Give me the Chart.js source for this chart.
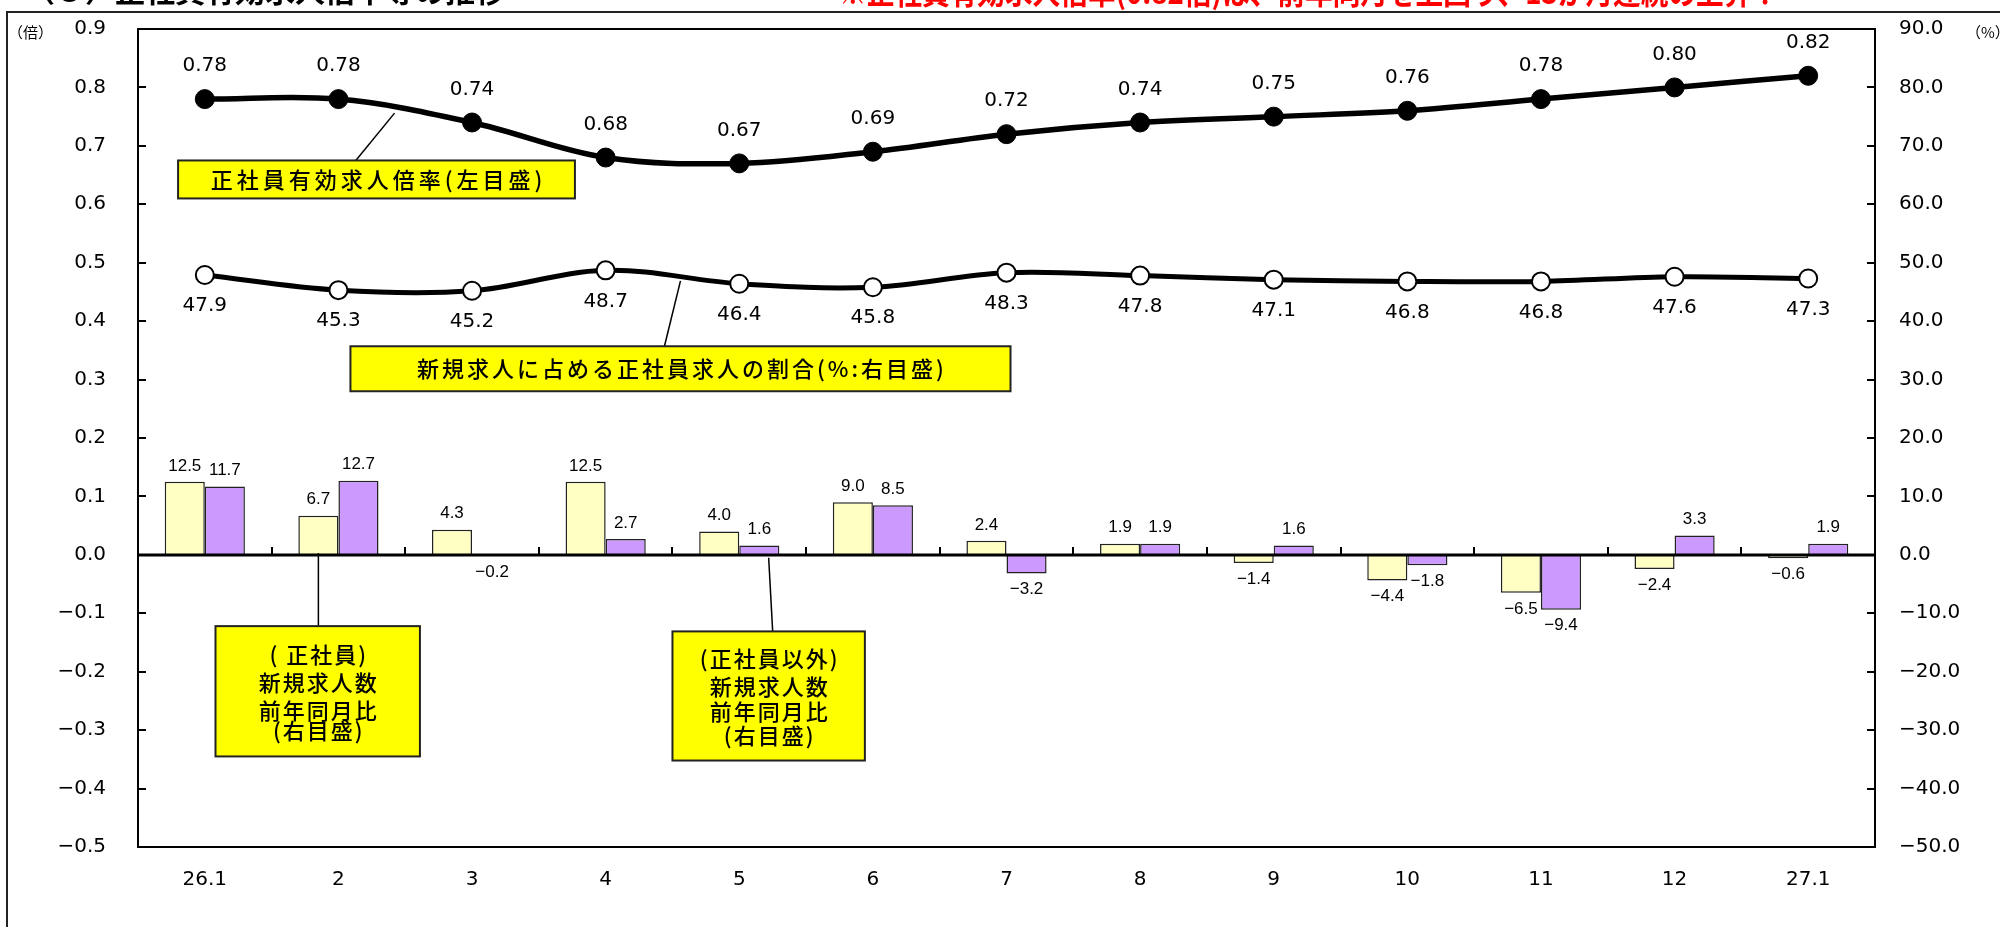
<!DOCTYPE html>
<html lang="ja">
<head>
<meta charset="utf-8">
<title>正社員有効求人倍率の推移</title>
<script src="https://cdn.jsdelivr.net/npm/chart.js@4.4.1/dist/chart.umd.min.js"></script>
<style>
  html, body { margin: 0; padding: 0; background: #fff; }
  #wrap { position: relative; width: 2000px; height: 927px; }
</style>
</head>
<body>
<div id="wrap"><canvas id="chart"></canvas></div>
<script>
// ---- data ----
const MONTHS = ['26.1', '2', '3', '4', '5', '6', '7', '8', '9', '10', '11', '12', '27.1'];
// 正社員有効求人倍率 (left axis, 倍)
const RATIO = [0.78, 0.78, 0.74, 0.68, 0.67, 0.69, 0.72, 0.74, 0.75, 0.76, 0.78, 0.80, 0.82];
// 新規求人に占める正社員求人の割合 (right axis, %)
const SHARE = [47.9, 45.3, 45.2, 48.7, 46.4, 45.8, 48.3, 47.8, 47.1, 46.8, 46.8, 47.6, 47.3];
// 新規求人数 前年同月比 (right axis, %)
const REGULAR_YOY = [12.5, 6.7, 4.3, 12.5, 4.0, 9.0, 2.4, 1.9, -1.4, -4.4, -6.5, -2.4, -0.6];
const OTHER_YOY = [11.7, 12.7, -0.2, 2.7, 1.6, 8.5, -3.2, 1.9, 1.6, -1.8, -9.4, 3.3, 1.9];

// Callout boxes, placed in category index / right-axis units
const NOTES = [
  { lines: ['正社員有効求人倍率(左目盛)'], box: [-0.20, 67.5, 2.77, 61.0], lead: [1.13, 67.5, 1.42, 75.6], spacing: 4 },
  { lines: ['新規求人に占める正社員求人の割合(%:右目盛)'], box: [1.09, 35.7, 6.03, 28.0], lead: [3.44, 35.7, 3.56, 46.9], spacing: 3 },
  { lines: ['( 正社員)', '新規求人数', '前年同月比', '(右目盛)'], rows: [29, 57, 85, 105], box: [0.08, -12.2, 1.61, -34.5], lead: [0.85, -12.2, 0.85, 0.3], spacing: 2 },
  { lines: ['(正社員以外)', '新規求人数', '前年同月比', '(右目盛)'], rows: [27, 55, 80, 104], box: [3.50, -13.1, 4.94, -35.2], lead: [4.25, -13.1, 4.22, -0.5], spacing: 2 }
];

const NUM_FONT = '"DejaVu Sans", sans-serif';
const JP_FONT = '"Noto Sans CJK JP", sans-serif';
const MINUS = '\u2212';
const fmt = (v, d) => (Math.abs(v) < 1e-9 ? 0 : v).toFixed(d).replace('-', MINUS);

// draws axis ticks, zero line, value labels, callouts and page texts
const overlay = {
  id: 'overlay',
  afterDatasetsDraw(chart) {
    const { ctx, chartArea: a, scales: { x, y, y1 } } = chart;
    const line = (x0, y0, x2, y2) => { ctx.beginPath(); ctx.moveTo(x0, y0); ctx.lineTo(x2, y2); ctx.stroke(); };
    ctx.save();
    ctx.strokeStyle = '#000';

    // plot top border
    ctx.lineWidth = 2;
    line(a.left, a.top, a.right, a.top);

    // inward tick marks
    y.ticks.forEach(t => { const p = Math.round(y.getPixelForValue(t.value)); line(a.left, p, a.left + 8, p); });
    y1.ticks.forEach(t => { const p = Math.round(y1.getPixelForValue(t.value)); line(a.right - 8, p, a.right, p); });

    // zero line with category ticks
    const zy = Math.round(y1.getPixelForValue(0));
    ctx.lineWidth = 3;
    line(a.left, zy, a.right, zy);
    ctx.lineWidth = 2;
    for (let i = 1; i < MONTHS.length; i++) {
      const p = Math.round(x.getPixelForValue(i - 0.5));
      line(p, zy, p, zy - 8);
    }

    // value labels
    ctx.fillStyle = '#000';
    ctx.textAlign = 'center';
    ctx.textBaseline = 'middle';
    ctx.font = '17px "Liberation Sans", Arial, sans-serif';
    [REGULAR_YOY, OTHER_YOY].forEach((vals, di) => {
      chart.getDatasetMeta(di + 2).data.forEach((el, i) => {
        const v = vals[i];
        ctx.fillText(fmt(v, 1), el.x, v >= 0 ? el.y - 16 : el.y + 16);
      });
    });
    ctx.font = '20px ' + NUM_FONT;
    chart.getDatasetMeta(0).data.forEach((el, i) => ctx.fillText(RATIO[i].toFixed(2), el.x, el.y - 33));
    chart.getDatasetMeta(1).data.forEach((el, i) => ctx.fillText(SHARE[i].toFixed(1), el.x, el.y + 31));

    // callouts
    NOTES.forEach(n => {
      const px = v => x.getPixelForValue(v);
      const py = v => y1.getPixelForValue(v);
      ctx.strokeStyle = '#000';
      ctx.lineWidth = 1.5;
      line(px(n.lead[0]), py(n.lead[1]), px(n.lead[2]), py(n.lead[3]));
      const bx = px(n.box[0]), by = py(n.box[1]);
      const bw = px(n.box[2]) - bx, bh = py(n.box[3]) - by;
      ctx.fillStyle = '#ffff00';
      ctx.fillRect(bx, by, bw, bh);
      ctx.lineWidth = 2;
      ctx.strokeStyle = '#222';
      ctx.strokeRect(bx, by, bw, bh);
      ctx.fillStyle = '#000';
      ctx.font = '500 22px ' + JP_FONT;
      ctx.letterSpacing = n.spacing + 'px';
      n.lines.forEach((t, k) => {
        const ty = n.rows ? by + n.rows[k] : by + bh / 2;
        ctx.fillText(t, bx + bw / 2 + n.spacing / 2, ty);
      });
      ctx.letterSpacing = '0px';
    });
    ctx.restore();
  },
  afterDraw(chart) {
    const { ctx } = chart;
    ctx.save();
    // outer frame
    ctx.strokeStyle = '#222';
    ctx.lineWidth = 2;
    ctx.strokeRect(7, 12, 2100, 1000);
    // axis units
    ctx.fillStyle = '#000';
    ctx.textBaseline = 'middle';
    ctx.font = '15px ' + JP_FONT;
    ctx.textAlign = 'left';
    ctx.fillText('（倍）', 8, 32);
    ctx.fillText('（%）', 1966, 32);
    // page texts, cut off by the top edge as in the source
    ctx.textBaseline = 'alphabetic';
    ctx.font = 'bold 30px ' + JP_FONT;
    ctx.fillText('（３）正社員有効求人倍率等の推移', 25, 2, 535);
    ctx.fillStyle = '#ff0000';
    ctx.font = 'bold 32px ' + JP_FONT;
    ctx.fillText('※正社員有効求人倍率(0.82倍)は、前年同月を上回り、13か月連続の上昇！', 839, 4, 940);
    ctx.restore();
  }
};

// fixed axis widths; drop the label overhang so the plot spans the given padding
const fixWidth = w => s => { s.width = w; s.paddingTop = 0; s.paddingBottom = 0; };

new Chart(document.getElementById('chart'), {
  data: {
    labels: MONTHS,
    datasets: [
      {
        type: 'line',
        label: '正社員有効求人倍率(左目盛)',
        data: RATIO,
        yAxisID: 'y',
        order: 0,
        borderColor: '#000',
        borderWidth: 5.5,
        tension: 0.35,
        pointRadius: 9.5,
        pointBackgroundColor: '#000',
        pointBorderColor: '#000',
        pointBorderWidth: 1
      },
      {
        type: 'line',
        label: '新規求人に占める正社員求人の割合(%:右目盛)',
        data: SHARE,
        yAxisID: 'y1',
        order: 0,
        borderColor: '#000',
        borderWidth: 5,
        tension: 0.35,
        pointRadius: 9,
        pointBackgroundColor: '#fff',
        pointBorderColor: '#000',
        pointBorderWidth: 2
      },
      {
        type: 'bar',
        label: '（正社員）新規求人数前年同月比',
        data: REGULAR_YOY,
        yAxisID: 'y1',
        order: 1,
        backgroundColor: '#ffffc4',
        borderColor: '#222',
        borderWidth: 1.5,
        barPercentage: 1,
        categoryPercentage: 0.6
      },
      {
        type: 'bar',
        label: '（正社員以外）新規求人数前年同月比',
        data: OTHER_YOY,
        yAxisID: 'y1',
        order: 1,
        backgroundColor: '#cc99ff',
        borderColor: '#222',
        borderWidth: 1.5,
        barPercentage: 1,
        categoryPercentage: 0.6
      }
    ]
  },
  options: {
    responsive: true,
    maintainAspectRatio: false,
    devicePixelRatio: 1,
    animation: false,
    events: [],
    layout: { autoPadding: false, padding: { top: 29, left: 0, right: 0, bottom: 0 } },
    plugins: { legend: { display: false }, tooltip: { enabled: false } },
    scales: {
      x: {
        offset: true,
        grid: { display: false, drawTicks: false },
        border: { display: true, color: '#000', width: 2 },
        ticks: { color: '#000', font: { family: NUM_FONT, size: 20 }, padding: 21, maxRotation: 0, autoSkip: false },
        afterFit(s) { s.height = 80; }
      },
      y: {
        position: 'left',
        min: -0.5,
        max: 0.9,
        grid: { drawOnChartArea: false, drawTicks: false },
        border: { color: '#000', width: 2 },
        ticks: { stepSize: 0.1, color: '#000', font: { family: NUM_FONT, size: 20 }, padding: 32, callback: v => fmt(v, 1) },
        afterFit: fixWidth(138)
      },
      y1: {
        position: 'right',
        min: -50,
        max: 90,
        grid: { drawOnChartArea: false, drawTicks: false },
        border: { color: '#000', width: 2 },
        ticks: { stepSize: 10, color: '#000', font: { family: NUM_FONT, size: 20 }, padding: 24, callback: v => fmt(v, 1) },
        afterFit: fixWidth(125)
      }
    }
  },
  plugins: [overlay]
});
</script>
</body>
</html>
